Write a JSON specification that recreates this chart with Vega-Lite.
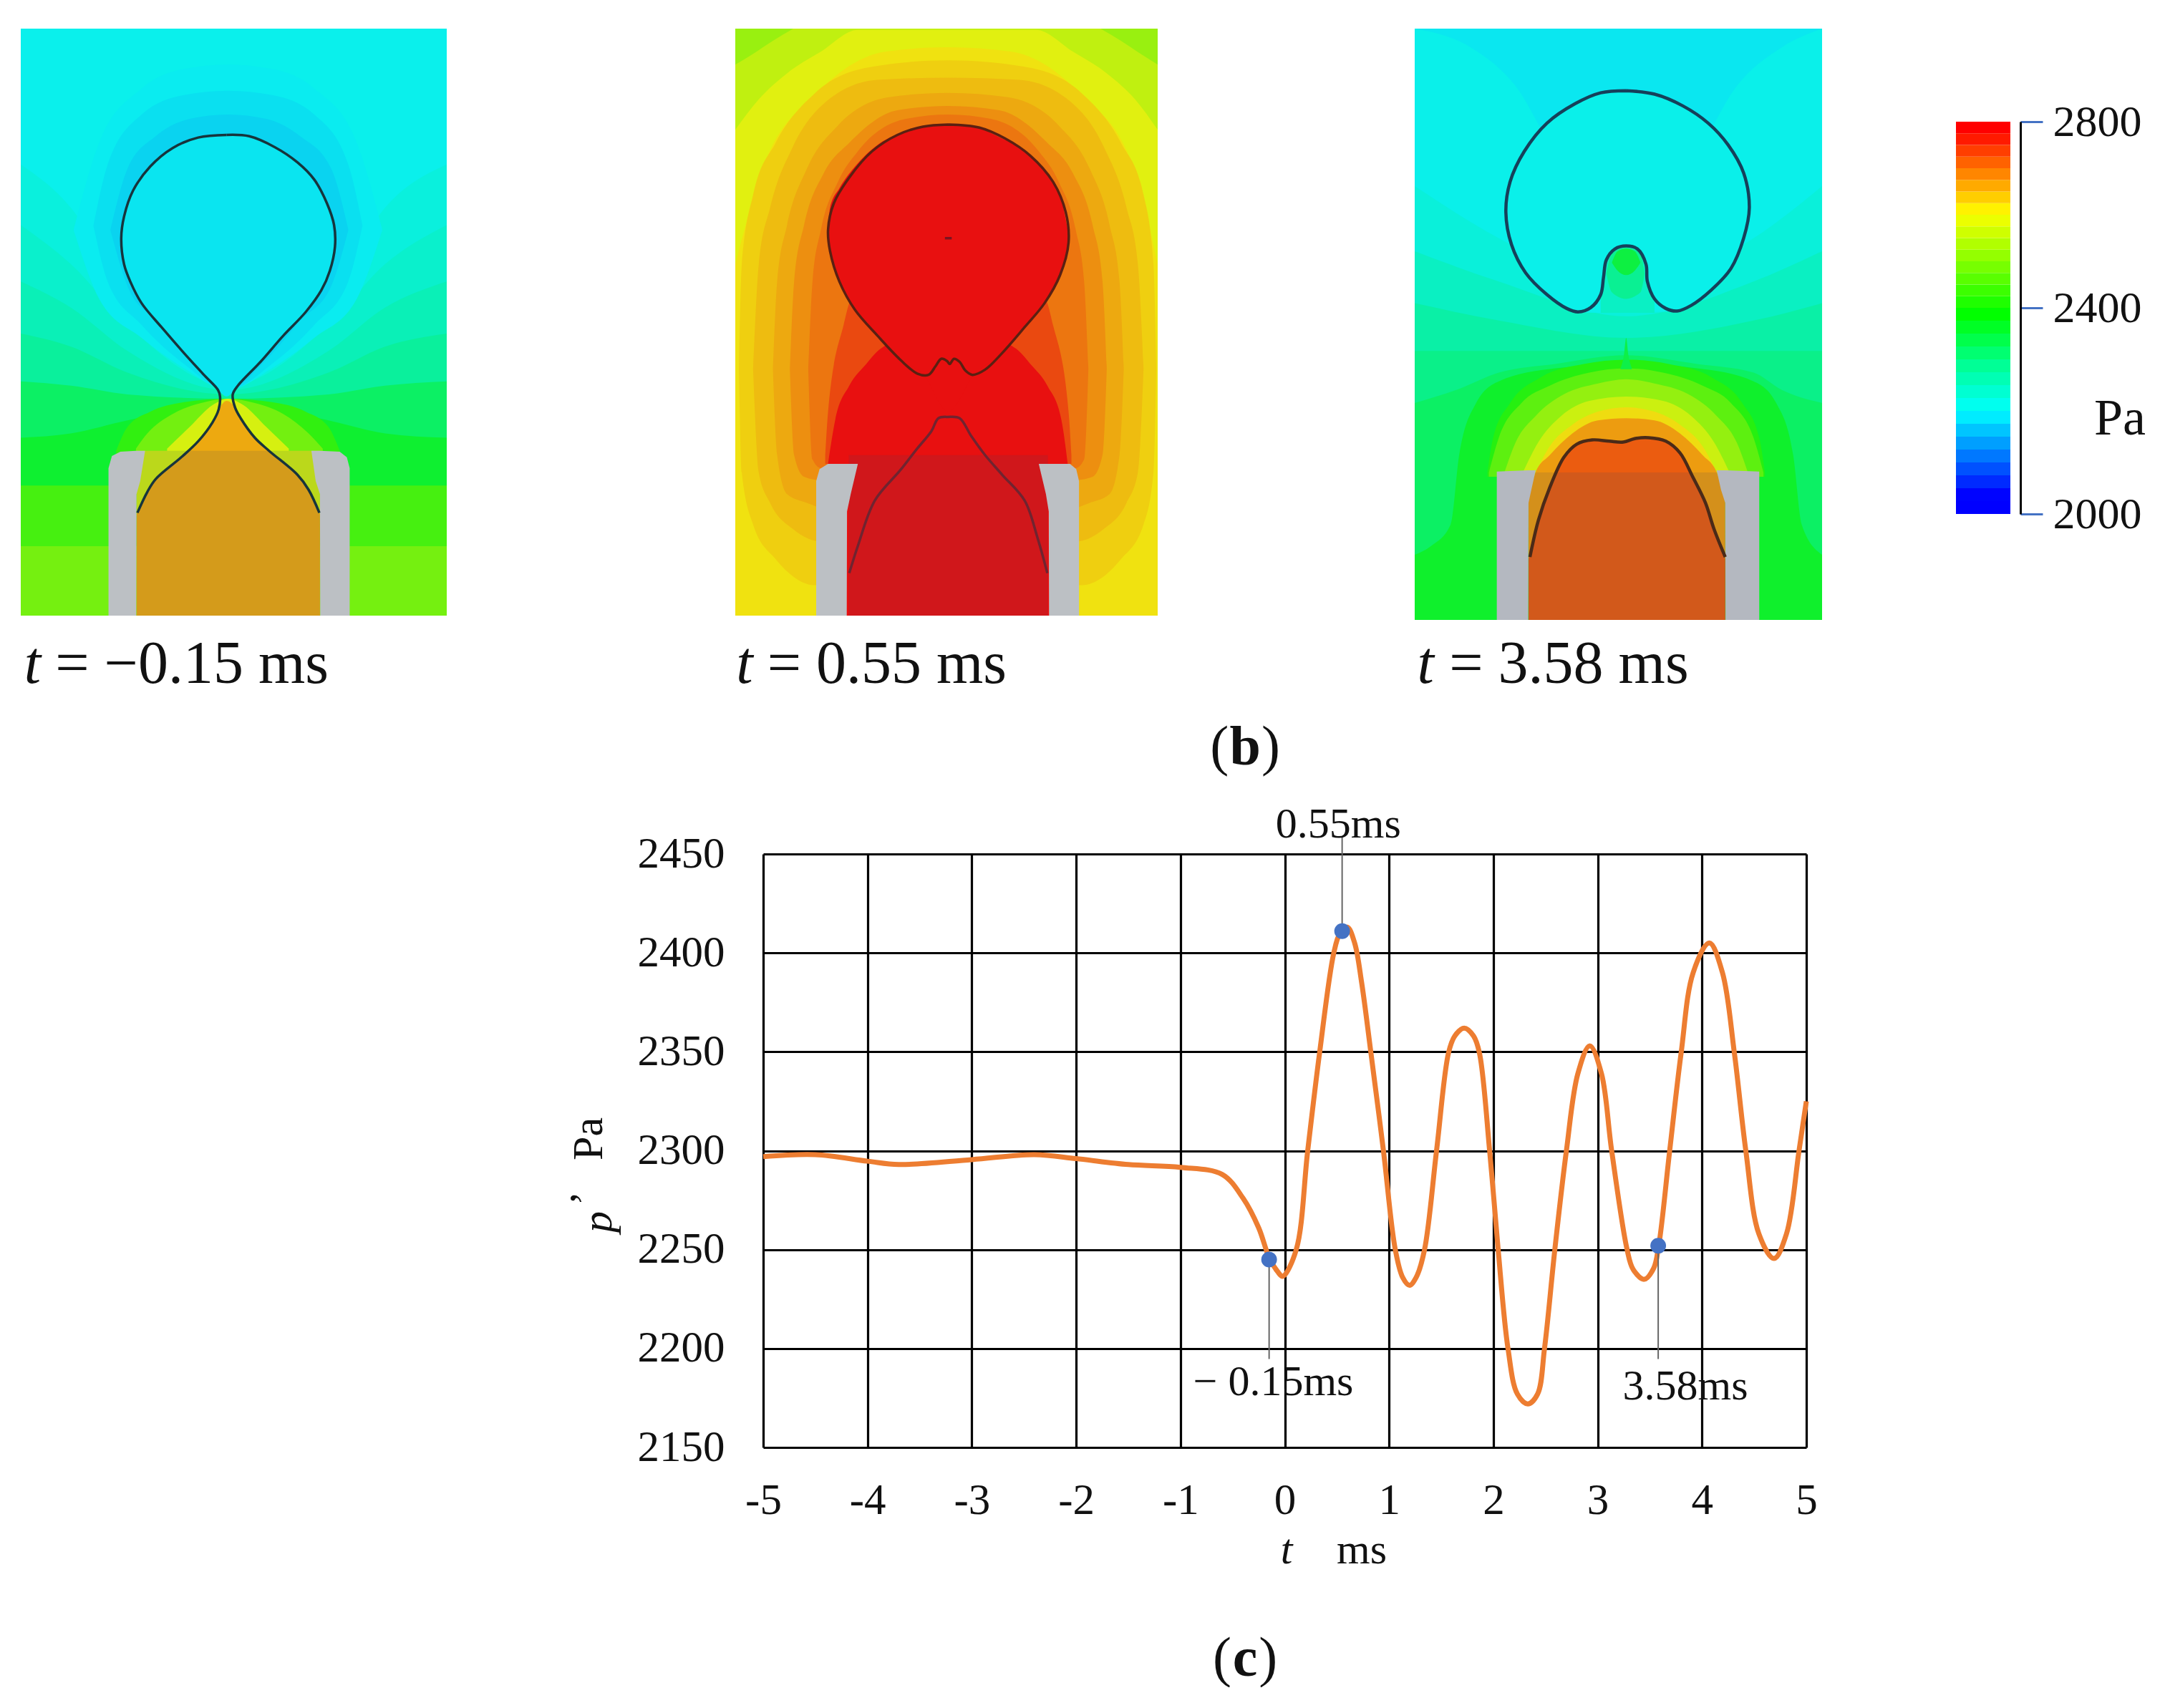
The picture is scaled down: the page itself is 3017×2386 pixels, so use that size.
{
"$schema":"https://vega.github.io/schema/vega-lite/v6.json",
"background":"white",
"padding":{"left":29,"top":40,"right":0,"bottom":0},
"spacing":0,
"resolve":{"scale":{"color":"independent","stroke":"independent"}},
"config":{"view":{"stroke":null},"text":{"font":"Liberation Serif","color":"#111111"},"axis":{"labelFont":"Liberation Serif"}},
"datasets":{
"fill_a":[
{"c":"base","p":2216,"x":23,"y":17,"y2":1370},{"c":"base","p":2216,"x":1528,"y":17,"y2":1370},
{"c":"b2","p":2232,"x":23,"y":330,"y2":1370},{"c":"b2","p":2232,"x":200,"y":430,"y2":1370},{"c":"b2","p":2232,"x":400,"y":640,"y2":1370},{"c":"b2","p":2232,"x":755,"y":800,"y2":1370},{"c":"b2","p":2232,"x":1110,"y":640,"y2":1370},{"c":"b2","p":2232,"x":1310,"y":430,"y2":1370},{"c":"b2","p":2232,"x":1528,"y":330,"y2":1370},
{"c":"b3","p":2250,"x":23,"y":470,"y2":1370},{"c":"b3","p":2250,"x":200,"y":560,"y2":1370},{"c":"b3","p":2250,"x":400,"y":700,"y2":1370},{"c":"b3","p":2250,"x":755,"y":840,"y2":1370},{"c":"b3","p":2250,"x":1110,"y":700,"y2":1370},{"c":"b3","p":2250,"x":1310,"y":560,"y2":1370},{"c":"b3","p":2250,"x":1528,"y":470,"y2":1370},
{"c":"b4","p":2272,"x":23,"y":600,"y2":1370},{"c":"b4","p":2272,"x":200,"y":660,"y2":1370},{"c":"b4","p":2272,"x":400,"y":760,"y2":1370},{"c":"b4","p":2272,"x":755,"y":850,"y2":1370},{"c":"b4","p":2272,"x":1110,"y":760,"y2":1370},{"c":"b4","p":2272,"x":1310,"y":660,"y2":1370},{"c":"b4","p":2272,"x":1528,"y":600,"y2":1370},
{"c":"b5","p":2300,"x":23,"y":720,"y2":1370},{"c":"b5","p":2300,"x":200,"y":750,"y2":1370},{"c":"b5","p":2300,"x":400,"y":810,"y2":1370},{"c":"b5","p":2300,"x":755,"y":860,"y2":1370},{"c":"b5","p":2300,"x":1110,"y":810,"y2":1370},{"c":"b5","p":2300,"x":1310,"y":750,"y2":1370},{"c":"b5","p":2300,"x":1528,"y":720,"y2":1370},
{"c":"b6","p":2350,"x":23,"y":830,"y2":1370},{"c":"b6","p":2350,"x":200,"y":840,"y2":1370},{"c":"b6","p":2350,"x":400,"y":860,"y2":1370},{"c":"b6","p":2350,"x":755,"y":870,"y2":1370},{"c":"b6","p":2350,"x":1110,"y":860,"y2":1370},{"c":"b6","p":2350,"x":1310,"y":840,"y2":1370},{"c":"b6","p":2350,"x":1528,"y":830,"y2":1370},
{"c":"b7","p":2387,"x":23,"y":960,"y2":1370},{"c":"b7","p":2387,"x":200,"y":950,"y2":1370},{"c":"b7","p":2387,"x":400,"y":920,"y2":1370},{"c":"b7","p":2387,"x":755,"y":880,"y2":1370},{"c":"b7","p":2387,"x":1110,"y":920,"y2":1370},{"c":"b7","p":2387,"x":1310,"y":950,"y2":1370},{"c":"b7","p":2387,"x":1528,"y":960,"y2":1370},
{"c":"b8","p":2459,"x":23,"y":1070,"y2":1370},{"c":"b8","p":2459,"x":1528,"y":1070,"y2":1370},
{"c":"b9","p":2502,"x":23,"y":1210,"y2":1370},{"c":"b9","p":2502,"x":1528,"y":1210,"y2":1370},
{"c":"h1","p":2209,"x":210,"y":480,"y2":482},{"c":"h1","p":2209,"x":300,"y":280,"y2":640},{"c":"h1","p":2209,"x":450,"y":155,"y2":730},{"c":"h1","p":2209,"x":600,"y":110,"y2":800},{"c":"h1","p":2209,"x":755,"y":100,"y2":850},{"c":"h1","p":2209,"x":910,"y":110,"y2":800},{"c":"h1","p":2209,"x":1060,"y":155,"y2":730},{"c":"h1","p":2209,"x":1210,"y":280,"y2":640},{"c":"h1","p":2209,"x":1300,"y":480,"y2":482},
{"c":"h2","p":2200,"x":280,"y":470,"y2":472},{"c":"h2","p":2200,"x":330,"y":330,"y2":600},{"c":"h2","p":2200,"x":450,"y":215,"y2":700},{"c":"h2","p":2200,"x":600,"y":170,"y2":790},{"c":"h2","p":2200,"x":755,"y":160,"y2":850},{"c":"h2","p":2200,"x":910,"y":170,"y2":790},{"c":"h2","p":2200,"x":1060,"y":215,"y2":700},{"c":"h2","p":2200,"x":1180,"y":330,"y2":600},{"c":"h2","p":2200,"x":1230,"y":470,"y2":472},
{"c":"h3","p":2190,"x":340,"y":480,"y2":482},{"c":"h3","p":2190,"x":400,"y":340,"y2":610},{"c":"h3","p":2190,"x":500,"y":265,"y2":690},{"c":"h3","p":2190,"x":620,"y":225,"y2":780},{"c":"h3","p":2190,"x":755,"y":215,"y2":850},{"c":"h3","p":2190,"x":890,"y":225,"y2":780},{"c":"h3","p":2190,"x":1010,"y":265,"y2":690},{"c":"h3","p":2190,"x":1120,"y":340,"y2":610},{"c":"h3","p":2190,"x":1180,"y":480,"y2":482},
{"c":"bubble","p":2204,"x":378,"y":500,"y2":502},{"c":"bubble","p":2204,"x":388,"y":450,"y2":560},{"c":"bubble","p":2204,"x":420,"y":390,"y2":610},{"c":"bubble","p":2204,"x":480,"y":335,"y2":672},{"c":"bubble","p":2204,"x":560,"y":292,"y2":735},{"c":"bubble","p":2204,"x":650,"y":268,"y2":800},{"c":"bubble","p":2204,"x":720,"y":262,"y2":850},{"c":"bubble","p":2204,"x":750,"y":262,"y2":865},{"c":"bubble","p":2204,"x":790,"y":262,"y2":840},{"c":"bubble","p":2204,"x":870,"y":272,"y2":785},{"c":"bubble","p":2204,"x":950,"y":298,"y2":725},{"c":"bubble","p":2204,"x":1030,"y":345,"y2":670},{"c":"bubble","p":2204,"x":1085,"y":400,"y2":620},{"c":"bubble","p":2204,"x":1115,"y":445,"y2":575},{"c":"bubble","p":2204,"x":1133,"y":520,"y2":522},
{"c":"a1","p":2440,"x":360,"y":990,"y2":1000},{"c":"a1","p":2440,"x":400,"y":935,"y2":1000},{"c":"a1","p":2440,"x":480,"y":900,"y2":1000},{"c":"a1","p":2440,"x":600,"y":878,"y2":1000},{"c":"a1","p":2440,"x":755,"y":870,"y2":1000},{"c":"a1","p":2440,"x":910,"y":878,"y2":1000},{"c":"a1","p":2440,"x":1030,"y":900,"y2":1000},{"c":"a1","p":2440,"x":1110,"y":935,"y2":1000},{"c":"a1","p":2440,"x":1150,"y":990,"y2":1000},
{"c":"a2","p":2500,"x":430,"y":985,"y2":1000},{"c":"a2","p":2500,"x":470,"y":950,"y2":1000},{"c":"a2","p":2500,"x":560,"y":905,"y2":1000},{"c":"a2","p":2500,"x":660,"y":880,"y2":1000},{"c":"a2","p":2500,"x":755,"y":870,"y2":1000},{"c":"a2","p":2500,"x":850,"y":880,"y2":1000},{"c":"a2","p":2500,"x":950,"y":905,"y2":1000},{"c":"a2","p":2500,"x":1040,"y":950,"y2":1000},{"c":"a2","p":2500,"x":1090,"y":985,"y2":1000},
{"c":"a3","p":2590,"x":540,"y":985,"y2":1000},{"c":"a3","p":2590,"x":620,"y":935,"y2":1000},{"c":"a3","p":2590,"x":700,"y":885,"y2":1000},{"c":"a3","p":2590,"x":755,"y":870,"y2":1000},{"c":"a3","p":2590,"x":810,"y":885,"y2":1000},{"c":"a3","p":2590,"x":890,"y":935,"y2":1000},{"c":"a3","p":2590,"x":970,"y":985,"y2":1000},
{"c":"a4","p":2585,"x":432,"y":990,"y2":1140},{"c":"a4","p":2585,"x":1080,"y":990,"y2":1140},
{"c":"jet","p":2670,"x":432,"y":1136,"y2":1370},{"c":"jet","p":2670,"x":470,"y":1085,"y2":1370},{"c":"jet","p":2670,"x":500,"y":1055,"y2":1370},{"c":"jet","p":2670,"x":590,"y":1005,"y2":1370},{"c":"jet","p":2670,"x":650,"y":968,"y2":1370},{"c":"jet","p":2670,"x":700,"y":925,"y2":1370},{"c":"jet","p":2670,"x":722,"y":895,"y2":1370},{"c":"jet","p":2670,"x":750,"y":875,"y2":1370},{"c":"jet","p":2670,"x":780,"y":890,"y2":1370},{"c":"jet","p":2670,"x":800,"y":915,"y2":1370},{"c":"jet","p":2670,"x":850,"y":960,"y2":1370},{"c":"jet","p":2670,"x":900,"y":990,"y2":1370},{"c":"jet","p":2670,"x":1000,"y":1045,"y2":1370},{"c":"jet","p":2670,"x":1040,"y":1080,"y2":1370},{"c":"jet","p":2670,"x":1080,"y":1136,"y2":1370}
],
"wall_a":[
{"side":"l","x":333,"y":1030,"y2":1370},{"side":"l","x":345,"y":1002,"y2":1370},{"side":"l","x":375,"y":992,"y2":1370},{"side":"l","x":431,"y":990,"y2":1370},{"side":"l","x":432,"y":990,"y2":1090},{"side":"l","x":445,"y":990,"y2":1060},{"side":"l","x":462,"y":990,"y2":991},
{"side":"r","x":1050,"y":990,"y2":991},{"side":"r","x":1065,"y":990,"y2":1060},{"side":"r","x":1080,"y":990,"y2":1090},{"side":"r","x":1081,"y":990,"y2":1370},{"side":"r","x":1150,"y":992,"y2":1370},{"side":"r","x":1175,"y":1005,"y2":1370},{"side":"r","x":1185,"y":1030,"y2":1370}
],
"glass_a":[{"x":432,"x2":1080,"y":990,"y2":1370}],
"line_a":[
{"piece":"top left","x":750,"y":262},{"piece":"top left","x":650,"y":268},{"piece":"top left","x":560,"y":292},{"piece":"top left","x":480,"y":335},{"piece":"top left","x":420,"y":390},{"piece":"top left","x":388,"y":450},{"piece":"top left","x":378,"y":500},{"piece":"top left","x":388,"y":560},{"piece":"top left","x":410,"y":600},{"piece":"top left","x":450,"y":650},{"piece":"top left","x":520,"y":705},{"piece":"top left","x":600,"y":765},{"piece":"top left","x":670,"y":815},{"piece":"top left","x":720,"y":850},{"piece":"top left","x":727,"y":865},{"piece":"top left","x":722,"y":895},{"piece":"top left","x":700,"y":925},{"piece":"top left","x":650,"y":968},{"piece":"top left","x":590,"y":1005},{"piece":"top left","x":500,"y":1055},{"piece":"top left","x":470,"y":1085},{"piece":"top left","x":435,"y":1133},
{"piece":"top right","x":750,"y":262},{"piece":"top right","x":830,"y":265},{"piece":"top right","x":920,"y":290},{"piece":"top right","x":1000,"y":325},{"piece":"top right","x":1060,"y":365},{"piece":"top right","x":1105,"y":420},{"piece":"top right","x":1130,"y":470},{"piece":"top right","x":1133,"y":520},{"piece":"top right","x":1115,"y":575},{"piece":"top right","x":1085,"y":620},{"piece":"top right","x":1030,"y":670},{"piece":"top right","x":950,"y":725},{"piece":"top right","x":870,"y":785},{"piece":"top right","x":790,"y":840},{"piece":"top right","x":772,"y":860},{"piece":"top right","x":780,"y":890},{"piece":"top right","x":800,"y":915},{"piece":"top right","x":850,"y":960},{"piece":"top right","x":900,"y":990},{"piece":"top right","x":1000,"y":1045},{"piece":"top right","x":1040,"y":1080},{"piece":"top right","x":1078,"y":1133}
],
"fill_b":[
{"c":"base","p":2625,"x":17,"y":17,"y2":1370},{"c":"base","p":2625,"x":1510,"y":17,"y2":1370},
{"c":"t0","p":2600,"x":17,"y":17,"y2":560},{"c":"t0","p":2600,"x":120,"y":17,"y2":330},{"c":"t0","p":2600,"x":300,"y":17,"y2":170},{"c":"t0","p":2600,"x":550,"y":17,"y2":70},{"c":"t0","p":2600,"x":770,"y":17,"y2":60},{"c":"t0","p":2600,"x":990,"y":17,"y2":70},{"c":"t0","p":2600,"x":1240,"y":17,"y2":170},{"c":"t0","p":2600,"x":1420,"y":17,"y2":330},{"c":"t0","p":2600,"x":1510,"y":17,"y2":560},
{"c":"t1","p":2570,"x":17,"y":17,"y2":250},{"c":"t1","p":2570,"x":100,"y":17,"y2":180},{"c":"t1","p":2570,"x":200,"y":17,"y2":120},{"c":"t1","p":2570,"x":320,"y":17,"y2":70},{"c":"t1","p":2570,"x":450,"y":17,"y2":20},{"c":"t1","p":2570,"x":1080,"y":17,"y2":20},{"c":"t1","p":2570,"x":1210,"y":17,"y2":70},{"c":"t1","p":2570,"x":1330,"y":17,"y2":120},{"c":"t1","p":2570,"x":1430,"y":17,"y2":180},{"c":"t1","p":2570,"x":1510,"y":17,"y2":250},
{"c":"t2l","p":2535,"x":17,"y":17,"y2":100},{"c":"t2l","p":2535,"x":80,"y":17,"y2":75},{"c":"t2l","p":2535,"x":150,"y":17,"y2":45},{"c":"t2l","p":2535,"x":220,"y":17,"y2":18},
{"c":"t2r","p":2535,"x":1310,"y":17,"y2":18},{"c":"t2r","p":2535,"x":1380,"y":17,"y2":45},{"c":"t2r","p":2535,"x":1450,"y":17,"y2":75},{"c":"t2r","p":2535,"x":1510,"y":17,"y2":100},
{"c":"c1","p":2640,"x":30,"y":800,"y2":802},{"c":"c1","p":2640,"x":40,"y":560,"y2":1040},{"c":"c1","p":2640,"x":80,"y":400,"y2":1160},{"c":"c1","p":2640,"x":160,"y":280,"y2":1240},{"c":"c1","p":2640,"x":300,"y":165,"y2":1300},{"c":"c1","p":2640,"x":500,"y":105,"y2":1300},{"c":"c1","p":2640,"x":770,"y":90,"y2":1300},{"c":"c1","p":2640,"x":1040,"y":105,"y2":1300},{"c":"c1","p":2640,"x":1240,"y":165,"y2":1300},{"c":"c1","p":2640,"x":1380,"y":280,"y2":1240},{"c":"c1","p":2640,"x":1460,"y":400,"y2":1160},{"c":"c1","p":2640,"x":1495,"y":560,"y2":1040},{"c":"c1","p":2640,"x":1505,"y":800,"y2":802},
{"c":"c2","p":2655,"x":80,"y":800,"y2":802},{"c":"c2","p":2655,"x":100,"y":560,"y2":1040},{"c":"c2","p":2655,"x":140,"y":430,"y2":1110},{"c":"c2","p":2655,"x":220,"y":290,"y2":1170},{"c":"c2","p":2655,"x":330,"y":190,"y2":1200},{"c":"c2","p":2655,"x":520,"y":135,"y2":1200},{"c":"c2","p":2655,"x":770,"y":130,"y2":1200},{"c":"c2","p":2655,"x":1020,"y":135,"y2":1200},{"c":"c2","p":2655,"x":1210,"y":190,"y2":1200},{"c":"c2","p":2655,"x":1320,"y":290,"y2":1170},{"c":"c2","p":2655,"x":1400,"y":430,"y2":1110},{"c":"c2","p":2655,"x":1440,"y":560,"y2":1040},{"c":"c2","p":2655,"x":1460,"y":800,"y2":802},
{"c":"c3","p":2670,"x":150,"y":800,"y2":802},{"c":"c3","p":2670,"x":165,"y":600,"y2":1000},{"c":"c3","p":2670,"x":200,"y":470,"y2":1090},{"c":"c3","p":2670,"x":270,"y":340,"y2":1110},{"c":"c3","p":2670,"x":380,"y":240,"y2":1130},{"c":"c3","p":2670,"x":560,"y":175,"y2":1130},{"c":"c3","p":2670,"x":770,"y":165,"y2":1130},{"c":"c3","p":2670,"x":980,"y":175,"y2":1130},{"c":"c3","p":2670,"x":1160,"y":240,"y2":1130},{"c":"c3","p":2670,"x":1270,"y":340,"y2":1110},{"c":"c3","p":2670,"x":1340,"y":470,"y2":1090},{"c":"c3","p":2670,"x":1375,"y":600,"y2":1000},{"c":"c3","p":2670,"x":1390,"y":800,"y2":802},
{"c":"c4","p":2690,"x":210,"y":800,"y2":802},{"c":"c4","p":2690,"x":225,"y":600,"y2":1000},{"c":"c4","p":2690,"x":260,"y":470,"y2":1050},{"c":"c4","p":2690,"x":330,"y":350,"y2":1060},{"c":"c4","p":2690,"x":420,"y":280,"y2":1070},{"c":"c4","p":2690,"x":590,"y":205,"y2":1070},{"c":"c4","p":2690,"x":770,"y":195,"y2":1070},{"c":"c4","p":2690,"x":950,"y":205,"y2":1070},{"c":"c4","p":2690,"x":1120,"y":280,"y2":1070},{"c":"c4","p":2690,"x":1210,"y":350,"y2":1060},{"c":"c4","p":2690,"x":1280,"y":470,"y2":1050},{"c":"c4","p":2690,"x":1315,"y":600,"y2":1000},{"c":"c4","p":2690,"x":1330,"y":800,"y2":802},
{"c":"c5","p":2710,"x":275,"y":800,"y2":802},{"c":"c5","p":2710,"x":290,"y":600,"y2":1010},{"c":"c5","p":2710,"x":320,"y":480,"y2":1030},{"c":"c5","p":2710,"x":380,"y":370,"y2":1030},{"c":"c5","p":2710,"x":450,"y":300,"y2":1030},{"c":"c5","p":2710,"x":620,"y":225,"y2":1030},{"c":"c5","p":2710,"x":770,"y":215,"y2":1030},{"c":"c5","p":2710,"x":920,"y":225,"y2":1030},{"c":"c5","p":2710,"x":1090,"y":300,"y2":1030},{"c":"c5","p":2710,"x":1160,"y":370,"y2":1030},{"c":"c5","p":2710,"x":1220,"y":480,"y2":1030},{"c":"c5","p":2710,"x":1250,"y":600,"y2":1010},{"c":"c5","p":2710,"x":1265,"y":800,"y2":802},
{"c":"c6","p":2745,"x":335,"y":1000,"y2":1020},{"c":"c6","p":2745,"x":345,"y":900,"y2":1020},{"c":"c6","p":2745,"x":400,"y":700,"y2":1020},{"c":"c6","p":2745,"x":430,"y":640,"y2":1020},{"c":"c6","p":2745,"x":770,"y":640,"y2":1020},{"c":"c6","p":2745,"x":1110,"y":640,"y2":1020},{"c":"c6","p":2745,"x":1140,"y":700,"y2":1020},{"c":"c6","p":2745,"x":1195,"y":900,"y2":1020},{"c":"c6","p":2745,"x":1205,"y":1000,"y2":1020},
{"c":"lobe","p":2800,"x":345,"y":1020,"y2":1370},{"c":"lobe","p":2800,"x":370,"y":920,"y2":1370},{"c":"lobe","p":2800,"x":420,"y":840,"y2":1370},{"c":"lobe","p":2800,"x":480,"y":790,"y2":1370},{"c":"lobe","p":2800,"x":530,"y":755,"y2":1370},{"c":"lobe","p":2800,"x":770,"y":700,"y2":1370},{"c":"lobe","p":2800,"x":1010,"y":755,"y2":1370},{"c":"lobe","p":2800,"x":1060,"y":790,"y2":1370},{"c":"lobe","p":2800,"x":1120,"y":840,"y2":1370},{"c":"lobe","p":2800,"x":1170,"y":920,"y2":1370},{"c":"lobe","p":2800,"x":1192,"y":1020,"y2":1370},
{"c":"bubble","p":2800,"x":345,"y":480,"y2":482},{"c":"bubble","p":2800,"x":352,"y":430,"y2":530},{"c":"bubble","p":2800,"x":385,"y":385,"y2":600},{"c":"bubble","p":2800,"x":440,"y":335,"y2":665},{"c":"bubble","p":2800,"x":520,"y":285,"y2":725},{"c":"bubble","p":2800,"x":600,"y":258,"y2":780},{"c":"bubble","p":2800,"x":680,"y":243,"y2":812},{"c":"bubble","p":2800,"x":770,"y":238,"y2":900},{"c":"bubble","p":2800,"x":860,"y":243,"y2":815},{"c":"bubble","p":2800,"x":960,"y":270,"y2":765},{"c":"bubble","p":2800,"x":1040,"y":298,"y2":705},{"c":"bubble","p":2800,"x":1110,"y":345,"y2":650},{"c":"bubble","p":2800,"x":1165,"y":400,"y2":585},{"c":"bubble","p":2800,"x":1195,"y":490,"y2":510}
],
"wall_b":[
{"side":"l","x":303,"y":1060,"y2":1370},{"side":"l","x":315,"y":1032,"y2":1370},{"side":"l","x":345,"y":1020,"y2":1370},{"side":"l","x":411,"y":1020,"y2":1370},{"side":"l","x":412,"y":1020,"y2":1130},{"side":"l","x":425,"y":1020,"y2":1090},{"side":"l","x":450,"y":1020,"y2":1021},
{"side":"r","x":1090,"y":1020,"y2":1021},{"side":"r","x":1115,"y":1020,"y2":1090},{"side":"r","x":1125,"y":1020,"y2":1130},{"side":"r","x":1126,"y":1020,"y2":1370},{"side":"r","x":1200,"y":1020,"y2":1370},{"side":"r","x":1222,"y":1032,"y2":1370},{"side":"r","x":1232,"y":1060,"y2":1370}
],
"glass_b":[{"x":418,"x2":1122,"y":1000,"y2":1370}],
"line_b":[
{"piece":"bubble","x":770,"y":238},{"piece":"bubble","x":680,"y":243},{"piece":"bubble","x":590,"y":262},{"piece":"bubble","x":500,"y":300},{"piece":"bubble","x":420,"y":360},{"piece":"bubble","x":365,"y":420},{"piece":"bubble","x":345,"y":480},{"piece":"bubble","x":352,"y":530},{"piece":"bubble","x":385,"y":600},{"piece":"bubble","x":440,"y":665},{"piece":"bubble","x":520,"y":725},{"piece":"bubble","x":600,"y":780},{"piece":"bubble","x":660,"y":812},{"piece":"bubble","x":700,"y":815},{"piece":"bubble","x":725,"y":795},{"piece":"bubble","x":745,"y":778},{"piece":"bubble","x":765,"y":783},{"piece":"bubble","x":775,"y":790},{"piece":"bubble","x":790,"y":778},{"piece":"bubble","x":810,"y":785},{"piece":"bubble","x":830,"y":805},{"piece":"bubble","x":855,"y":815},{"piece":"bubble","x":900,"y":803},{"piece":"bubble","x":960,"y":765},{"piece":"bubble","x":1040,"y":705},{"piece":"bubble","x":1110,"y":650},{"piece":"bubble","x":1165,"y":585},{"piece":"bubble","x":1195,"y":510},{"piece":"bubble","x":1185,"y":440},{"piece":"bubble","x":1140,"y":370},{"piece":"bubble","x":1060,"y":310},{"piece":"bubble","x":970,"y":270},{"piece":"bubble","x":880,"y":245},{"piece":"bubble","x":770,"y":238},
{"piece":"jet","x":420,"y":1272},{"piece":"jet","x":450,"y":1210},{"piece":"jet","x":510,"y":1105},{"piece":"jet","x":600,"y":1035},{"piece":"jet","x":660,"y":985},{"piece":"jet","x":710,"y":945},{"piece":"jet","x":735,"y":915},{"piece":"jet","x":770,"y":912},{"piece":"jet","x":810,"y":915},{"piece":"jet","x":850,"y":955},{"piece":"jet","x":900,"y":1000},{"piece":"jet","x":960,"y":1045},{"piece":"jet","x":1040,"y":1105},{"piece":"jet","x":1085,"y":1190},{"piece":"jet","x":1120,"y":1272},
{"piece":"dot","x":758,"y":500},{"piece":"dot","x":782,"y":500}
],
"fill_c":[
{"c":"base","p":2205,"x":3,"y":17,"y2":1380},{"c":"base","p":2205,"x":1442,"y":17,"y2":1380},
{"c":"t1","p":2218,"x":3,"y":17,"y2":1380},{"c":"t1","p":2218,"x":200,"y":60,"y2":1380},{"c":"t1","p":2218,"x":360,"y":150,"y2":1380},{"c":"t1","p":2218,"x":500,"y":300,"y2":1380},{"c":"t1","p":2218,"x":750,"y":400,"y2":1380},{"c":"t1","p":2218,"x":1000,"y":300,"y2":1380},{"c":"t1","p":2218,"x":1140,"y":150,"y2":1380},{"c":"t1","p":2218,"x":1300,"y":60,"y2":1380},{"c":"t1","p":2218,"x":1442,"y":17,"y2":1380},
{"c":"t2","p":2235,"x":3,"y":380,"y2":1380},{"c":"t2","p":2235,"x":300,"y":500,"y2":1380},{"c":"t2","p":2235,"x":750,"y":620,"y2":1380},{"c":"t2","p":2235,"x":1200,"y":500,"y2":1380},{"c":"t2","p":2235,"x":1442,"y":380,"y2":1380},
{"c":"t3","p":2260,"x":3,"y":530,"y2":1380},{"c":"t3","p":2260,"x":300,"y":600,"y2":1380},{"c":"t3","p":2260,"x":750,"y":680,"y2":1380},{"c":"t3","p":2260,"x":1200,"y":600,"y2":1380},{"c":"t3","p":2260,"x":1442,"y":530,"y2":1380},
{"c":"t4","p":2290,"x":3,"y":650,"y2":1380},{"c":"t4","p":2290,"x":300,"y":690,"y2":1380},{"c":"t4","p":2290,"x":750,"y":730,"y2":1380},{"c":"t4","p":2290,"x":1200,"y":690,"y2":1380},{"c":"t4","p":2290,"x":1442,"y":650,"y2":1380},
{"c":"t5","p":2320,"x":3,"y":760,"y2":1380},{"c":"t5","p":2320,"x":1442,"y":760,"y2":1380},
{"c":"t6","p":2350,"x":3,"y":880,"y2":1380},{"c":"t6","p":2350,"x":150,"y":850,"y2":1380},{"c":"t6","p":2350,"x":300,"y":810,"y2":1380},{"c":"t6","p":2350,"x":500,"y":790,"y2":1380},{"c":"t6","p":2350,"x":750,"y":770,"y2":1380},{"c":"t6","p":2350,"x":1000,"y":790,"y2":1380},{"c":"t6","p":2350,"x":1200,"y":810,"y2":1380},{"c":"t6","p":2350,"x":1300,"y":850,"y2":1380},{"c":"t6","p":2350,"x":1442,"y":880,"y2":1380},
{"c":"t7","p":2390,"x":3,"y":1230,"y2":1380},{"c":"t7","p":2390,"x":60,"y":1210,"y2":1380},{"c":"t7","p":2390,"x":130,"y":1160,"y2":1380},{"c":"t7","p":2390,"x":160,"y":1000,"y2":1380},{"c":"t7","p":2390,"x":220,"y":880,"y2":1380},{"c":"t7","p":2390,"x":300,"y":830,"y2":1380},{"c":"t7","p":2390,"x":500,"y":800,"y2":1380},{"c":"t7","p":2390,"x":750,"y":790,"y2":1380},{"c":"t7","p":2390,"x":1000,"y":800,"y2":1380},{"c":"t7","p":2390,"x":1200,"y":830,"y2":1380},{"c":"t7","p":2390,"x":1280,"y":880,"y2":1380},{"c":"t7","p":2390,"x":1340,"y":1000,"y2":1380},{"c":"t7","p":2390,"x":1370,"y":1160,"y2":1380},{"c":"t7","p":2390,"x":1442,"y":1230,"y2":1380},
{"c":"g1","p":2430,"x":260,"y":1040,"y2":1050},{"c":"g1","p":2430,"x":280,"y":960,"y2":1050},{"c":"g1","p":2430,"x":340,"y":880,"y2":1050},{"c":"g1","p":2430,"x":450,"y":820,"y2":1050},{"c":"g1","p":2430,"x":600,"y":790,"y2":1050},{"c":"g1","p":2430,"x":750,"y":780,"y2":1050},{"c":"g1","p":2430,"x":900,"y":790,"y2":1050},{"c":"g1","p":2430,"x":1050,"y":820,"y2":1050},{"c":"g1","p":2430,"x":1160,"y":880,"y2":1050},{"c":"g1","p":2430,"x":1220,"y":960,"y2":1050},{"c":"g1","p":2430,"x":1240,"y":1040,"y2":1050},
{"c":"g2","p":2480,"x":265,"y":1040,"y2":1050},{"c":"g2","p":2480,"x":300,"y":960,"y2":1050},{"c":"g2","p":2480,"x":380,"y":880,"y2":1050},{"c":"g2","p":2480,"x":480,"y":840,"y2":1050},{"c":"g2","p":2480,"x":620,"y":810,"y2":1050},{"c":"g2","p":2480,"x":750,"y":800,"y2":1050},{"c":"g2","p":2480,"x":880,"y":810,"y2":1050},{"c":"g2","p":2480,"x":1020,"y":840,"y2":1050},{"c":"g2","p":2480,"x":1120,"y":880,"y2":1050},{"c":"g2","p":2480,"x":1200,"y":960,"y2":1050},{"c":"g2","p":2480,"x":1235,"y":1040,"y2":1050},
{"c":"g3","p":2530,"x":320,"y":1040,"y2":1050},{"c":"g3","p":2530,"x":360,"y":970,"y2":1050},{"c":"g3","p":2530,"x":430,"y":910,"y2":1050},{"c":"g3","p":2530,"x":530,"y":860,"y2":1050},{"c":"g3","p":2530,"x":650,"y":835,"y2":1050},{"c":"g3","p":2530,"x":750,"y":825,"y2":1050},{"c":"g3","p":2530,"x":850,"y":835,"y2":1050},{"c":"g3","p":2530,"x":970,"y":860,"y2":1050},{"c":"g3","p":2530,"x":1070,"y":910,"y2":1050},{"c":"g3","p":2530,"x":1140,"y":970,"y2":1050},{"c":"g3","p":2530,"x":1180,"y":1040,"y2":1050},
{"c":"g4","p":2580,"x":385,"y":1040,"y2":1050},{"c":"g4","p":2580,"x":440,"y":970,"y2":1050},{"c":"g4","p":2580,"x":520,"y":910,"y2":1050},{"c":"g4","p":2580,"x":620,"y":875,"y2":1050},{"c":"g4","p":2580,"x":750,"y":865,"y2":1050},{"c":"g4","p":2580,"x":880,"y":875,"y2":1050},{"c":"g4","p":2580,"x":980,"y":910,"y2":1050},{"c":"g4","p":2580,"x":1060,"y":970,"y2":1050},{"c":"g4","p":2580,"x":1115,"y":1040,"y2":1050},
{"c":"g5","p":2630,"x":430,"y":1040,"y2":1050},{"c":"g5","p":2630,"x":480,"y":980,"y2":1050},{"c":"g5","p":2630,"x":560,"y":930,"y2":1050},{"c":"g5","p":2630,"x":650,"y":900,"y2":1050},{"c":"g5","p":2630,"x":750,"y":890,"y2":1050},{"c":"g5","p":2630,"x":850,"y":900,"y2":1050},{"c":"g5","p":2630,"x":940,"y":930,"y2":1050},{"c":"g5","p":2630,"x":1020,"y":980,"y2":1050},{"c":"g5","p":2630,"x":1070,"y":1040,"y2":1050},
{"c":"g6","p":2680,"x":405,"y":1100,"y2":1240},{"c":"g6","p":2680,"x":430,"y":1040,"y2":1240},{"c":"g6","p":2680,"x":480,"y":1000,"y2":1240},{"c":"g6","p":2680,"x":560,"y":950,"y2":1240},{"c":"g6","p":2680,"x":650,"y":920,"y2":1240},{"c":"g6","p":2680,"x":750,"y":915,"y2":1240},{"c":"g6","p":2680,"x":850,"y":920,"y2":1240},{"c":"g6","p":2680,"x":940,"y":950,"y2":1240},{"c":"g6","p":2680,"x":1020,"y":1000,"y2":1240},{"c":"g6","p":2680,"x":1070,"y":1040,"y2":1240},{"c":"g6","p":2680,"x":1100,"y":1100,"y2":1240},
{"c":"jet","p":2730,"x":405,"y":1240,"y2":1380},{"c":"jet","p":2730,"x":440,"y":1150,"y2":1380},{"c":"jet","p":2730,"x":480,"y":1075,"y2":1380},{"c":"jet","p":2730,"x":530,"y":1005,"y2":1380},{"c":"jet","p":2730,"x":575,"y":975,"y2":1380},{"c":"jet","p":2730,"x":630,"y":965,"y2":1380},{"c":"jet","p":2730,"x":690,"y":968,"y2":1380},{"c":"jet","p":2730,"x":740,"y":970,"y2":1380},{"c":"jet","p":2730,"x":780,"y":962,"y2":1380},{"c":"jet","p":2730,"x":830,"y":960,"y2":1380},{"c":"jet","p":2730,"x":890,"y":968,"y2":1380},{"c":"jet","p":2730,"x":940,"y":995,"y2":1380},{"c":"jet","p":2730,"x":985,"y":1050,"y2":1380},{"c":"jet","p":2730,"x":1030,"y":1110,"y2":1380},{"c":"jet","p":2730,"x":1060,"y":1170,"y2":1380},{"c":"jet","p":2730,"x":1100,"y":1240,"y2":1380},
{"c":"streak","p":2370,"x":730,"y":800,"y2":802},{"c":"streak","p":2370,"x":742,"y":770,"y2":802},{"c":"streak","p":2370,"x":750,"y":730,"y2":802},{"c":"streak","p":2370,"x":758,"y":770,"y2":802},{"c":"streak","p":2370,"x":770,"y":800,"y2":802},
{"c":"bubble","p":2218,"x":325,"y":440,"y2":445},{"c":"bubble","p":2218,"x":345,"y":360,"y2":515},{"c":"bubble","p":2218,"x":395,"y":295,"y2":580},{"c":"bubble","p":2218,"x":470,"y":235,"y2":630},{"c":"bubble","p":2218,"x":540,"y":205,"y2":662},{"c":"bubble","p":2218,"x":580,"y":190,"y2":670},{"c":"bubble","p":2218,"x":660,"y":165,"y2":672},{"c":"bubble","p":2218,"x":750,"y":160,"y2":672},{"c":"bubble","p":2218,"x":850,"y":168,"y2":670},{"c":"bubble","p":2218,"x":930,"y":190,"y2":668},{"c":"bubble","p":2218,"x":980,"y":205,"y2":655},{"c":"bubble","p":2218,"x":1050,"y":240,"y2":620},{"c":"bubble","p":2218,"x":1120,"y":295,"y2":570},{"c":"bubble","p":2218,"x":1165,"y":350,"y2":500},{"c":"bubble","p":2218,"x":1185,"y":430,"y2":435},
{"c":"nub","p":2258,"x":660,"y":640,"y2":672},{"c":"nub","p":2258,"x":670,"y":590,"y2":672},{"c":"nub","p":2258,"x":680,"y":550,"y2":672},{"c":"nub","p":2258,"x":710,"y":525,"y2":672},{"c":"nub","p":2258,"x":750,"y":518,"y2":672},{"c":"nub","p":2258,"x":790,"y":525,"y2":672},{"c":"nub","p":2258,"x":820,"y":560,"y2":672},{"c":"nub","p":2258,"x":825,"y":600,"y2":672},{"c":"nub","p":2258,"x":850,"y":645,"y2":672},
{"c":"nub mid","p":2310,"x":680,"y":580,"y2":582},{"c":"nub mid","p":2310,"x":700,"y":535,"y2":625},{"c":"nub mid","p":2310,"x":750,"y":522,"y2":640},{"c":"nub mid","p":2310,"x":800,"y":535,"y2":625},{"c":"nub mid","p":2310,"x":815,"y":580,"y2":582},
{"c":"nub top","p":2375,"x":700,"y":555,"y2":557},{"c":"nub top","p":2375,"x":720,"y":530,"y2":575},{"c":"nub top","p":2375,"x":750,"y":524,"y2":585},{"c":"nub top","p":2375,"x":780,"y":530,"y2":575},{"c":"nub top","p":2375,"x":800,"y":555,"y2":557}
],
"wall_c":[
{"side":"l","x":293,"y":1038,"y2":1380},{"side":"l","x":404,"y":1035,"y2":1380},{"side":"l","x":405,"y":1035,"y2":1110},{"side":"l","x":415,"y":1035,"y2":1080},{"side":"l","x":430,"y":1035,"y2":1036},
{"side":"r","x":1070,"y":1035,"y2":1036},{"side":"r","x":1085,"y":1035,"y2":1080},{"side":"r","x":1100,"y":1035,"y2":1110},{"side":"r","x":1101,"y":1035,"y2":1380},{"side":"r","x":1220,"y":1038,"y2":1380}
],
"glass_c":[{"x":405,"x2":1100,"y":1040,"y2":1380}],
"line_c":[
{"piece":"bubble","x":750,"y":160},{"piece":"bubble","x":660,"y":165},{"piece":"bubble","x":570,"y":190},{"piece":"bubble","x":470,"y":235},{"piece":"bubble","x":390,"y":300},{"piece":"bubble","x":340,"y":370},{"piece":"bubble","x":325,"y":440},{"piece":"bubble","x":345,"y":515},{"piece":"bubble","x":395,"y":580},{"piece":"bubble","x":470,"y":630},{"piece":"bubble","x":540,"y":662},{"piece":"bubble","x":580,"y":670},{"piece":"bubble","x":625,"y":660},{"piece":"bubble","x":660,"y":630},{"piece":"bubble","x":670,"y":590},{"piece":"bubble","x":680,"y":550},{"piece":"bubble","x":710,"y":525},{"piece":"bubble","x":750,"y":518},{"piece":"bubble","x":790,"y":525},{"piece":"bubble","x":820,"y":560},{"piece":"bubble","x":825,"y":600},{"piece":"bubble","x":850,"y":640},{"piece":"bubble","x":890,"y":662},{"piece":"bubble","x":930,"y":668},{"piece":"bubble","x":980,"y":655},{"piece":"bubble","x":1050,"y":620},{"piece":"bubble","x":1120,"y":570},{"piece":"bubble","x":1165,"y":500},{"piece":"bubble","x":1185,"y":430},{"piece":"bubble","x":1165,"y":350},{"piece":"bubble","x":1110,"y":285},{"piece":"bubble","x":1040,"y":235},{"piece":"bubble","x":950,"y":195},{"piece":"bubble","x":850,"y":168},{"piece":"bubble","x":750,"y":160},
{"piece":"jet","x":410,"y":1235},{"piece":"jet","x":440,"y":1150},{"piece":"jet","x":480,"y":1075},{"piece":"jet","x":530,"y":1005},{"piece":"jet","x":575,"y":975},{"piece":"jet","x":630,"y":965},{"piece":"jet","x":690,"y":968},{"piece":"jet","x":740,"y":970},{"piece":"jet","x":780,"y":962},{"piece":"jet","x":830,"y":960},{"piece":"jet","x":890,"y":968},{"piece":"jet","x":940,"y":995},{"piece":"jet","x":985,"y":1050},{"piece":"jet","x":1030,"y":1110},{"piece":"jet","x":1060,"y":1170},{"piece":"jet","x":1100,"y":1235}
],
"colorbar":[
{"lo":2000,"hi":2025,"p":2012},{"lo":2025,"hi":2050,"p":2037},{"lo":2050,"hi":2075,"p":2062},{"lo":2075,"hi":2100,"p":2087},{"lo":2100,"hi":2125,"p":2112},{"lo":2125,"hi":2150,"p":2137},{"lo":2150,"hi":2175,"p":2162},{"lo":2175,"hi":2200,"p":2187},{"lo":2200,"hi":2225,"p":2212},{"lo":2225,"hi":2250,"p":2237},{"lo":2250,"hi":2275,"p":2262},{"lo":2275,"hi":2300,"p":2287},{"lo":2300,"hi":2325,"p":2312},{"lo":2325,"hi":2350,"p":2337},{"lo":2350,"hi":2375,"p":2362},{"lo":2375,"hi":2400,"p":2387},{"lo":2400,"hi":2425,"p":2412},{"lo":2425,"hi":2450,"p":2437},{"lo":2450,"hi":2475,"p":2462},{"lo":2475,"hi":2500,"p":2487},{"lo":2500,"hi":2525,"p":2512},{"lo":2525,"hi":2550,"p":2537},{"lo":2550,"hi":2575,"p":2562},{"lo":2575,"hi":2600,"p":2587},{"lo":2600,"hi":2625,"p":2612},{"lo":2625,"hi":2650,"p":2637},{"lo":2650,"hi":2675,"p":2662},{"lo":2675,"hi":2700,"p":2687},{"lo":2700,"hi":2725,"p":2712},{"lo":2725,"hi":2750,"p":2737},{"lo":2750,"hi":2775,"p":2762},{"lo":2775,"hi":2800,"p":2787}
],
"pressure":[
{"t":-5,"p":2297},{"t":-4.5,"p":2298},{"t":-4,"p":2294.7},{"t":-3.7,"p":2293},{"t":-3,"p":2295.5},{"t":-2.4,"p":2298},{"t":-2,"p":2296},{"t":-1.5,"p":2293},{"t":-1,"p":2291.6},{"t":-0.6,"p":2288},{"t":-0.4,"p":2276},{"t":-0.25,"p":2261},{"t":-0.15,"p":2246},{"t":-0.07,"p":2239},{"t":-0.02,"p":2236.5},{"t":0.11,"p":2250},{"t":0.22,"p":2300},{"t":0.335,"p":2350},{"t":0.47,"p":2400},{"t":0.53,"p":2410},{"t":0.6,"p":2413},{"t":0.67,"p":2405},{"t":0.737,"p":2385},{"t":0.826,"p":2349.5},{"t":0.946,"p":2300},{"t":1.058,"p":2250.5},{"t":1.13,"p":2236},{"t":1.196,"p":2232},{"t":1.26,"p":2236},{"t":1.34,"p":2250},{"t":1.455,"p":2300},{"t":1.57,"p":2349.5},{"t":1.63,"p":2358},{"t":1.72,"p":2362},{"t":1.81,"p":2358},{"t":1.866,"p":2349.5},{"t":1.964,"p":2300},{"t":2.045,"p":2250.5},{"t":2.14,"p":2200},{"t":2.23,"p":2177},{"t":2.33,"p":2172},{"t":2.424,"p":2177},{"t":2.49,"p":2200},{"t":2.59,"p":2250.5},{"t":2.7,"p":2300},{"t":2.81,"p":2339},{"t":2.924,"p":2353},{"t":3.036,"p":2339},{"t":3.134,"p":2300},{"t":3.28,"p":2250.5},{"t":3.34,"p":2240},{"t":3.446,"p":2235},{"t":3.536,"p":2240.5},{"t":3.585,"p":2252},{"t":3.69,"p":2300},{"t":3.8,"p":2349.5},{"t":3.915,"p":2390},{"t":4.07,"p":2405},{"t":4.196,"p":2390},{"t":4.31,"p":2349.5},{"t":4.42,"p":2300},{"t":4.545,"p":2258},{"t":4.69,"p":2245.5},{"t":4.81,"p":2258},{"t":4.93,"p":2300},{"t":5,"p":2325}
],
"marks":[
{"t":-0.15,"p":2245,"end":2194.7},{"t":0.55,"p":2411,"end":2458.6},{"t":3.58,"p":2252,"end":2194.7}
]
},
"vconcat":[
{"bounds":"flush","spacing":0,"resolve":{"scale":{"color":"independent","stroke":"independent"}},"hconcat":[
{"width":998,"height":1081,
"encoding":{"x":{"field":"x","type":"quantitative","axis":null,"scale":{"domain":[23,1528],"range":[0,595],"nice":false,"zero":false}},"y":{"field":"y","type":"quantitative","axis":null,"scale":{"domain":[17,1370],"range":[0,820],"nice":false,"zero":false}}},
"layer":[
{"data":{"name":"fill_a"},"mark":{"type":"area","orient":"vertical","interpolate":"monotone","opacity":1},"encoding":{"y2":{"field":"y2"},"detail":{"field":"c"},"color":{"field":"p","type":"quantitative","legend":null,"scale":{"domain":[2040,2212,2330,2410,2614,2790],"range":["#0a0af0","#0af0f0","#0af080","#10f010","#f0f010","#e81010"],"interpolate":"rgb","clamp":true}}}},
{"data":{"name":"glass_a"},"mark":{"type":"rect","color":"#404a60","opacity":0.14},"encoding":{"x2":{"field":"x2"},"y2":{"field":"y2"}}},
{"data":{"name":"wall_a"},"mark":{"type":"area","orient":"vertical","color":"#bcc0c4","opacity":1},"encoding":{"y2":{"field":"y2"},"detail":{"field":"side"}}},
{"data":{"name":"line_a"},"mark":{"type":"line","interpolate":"catmull-rom","strokeWidth":3.5,"color":"#17343c"},"encoding":{"detail":{"field":"piece"},"order":{"value":null}}},
{"data":{"values":[{"x":35,"y":1525,"text":"t"}]},"mark":{"type":"text","fontSize":84,"fontStyle":"italic","align":"left","baseline":"alphabetic"},"encoding":{"text":{"field":"text"}}},
{"data":{"values":[{"x":145,"y":1525,"text":"= −0.15 ms"}]},"mark":{"type":"text","fontSize":84,"align":"left","baseline":"alphabetic"},"encoding":{"text":{"field":"text"}}}
]},
{"width":949,"height":1081,
"encoding":{"x":{"field":"x","type":"quantitative","axis":null,"scale":{"domain":[17,1510],"range":[0,590],"nice":false,"zero":false}},"y":{"field":"y","type":"quantitative","axis":null,"scale":{"domain":[17,1370],"range":[0,820],"nice":false,"zero":false}}},
"layer":[
{"data":{"name":"fill_b"},"mark":{"type":"area","orient":"vertical","interpolate":"monotone","opacity":1},"encoding":{"y2":{"field":"y2"},"detail":{"field":"c"},"color":{"field":"p","type":"quantitative","legend":null,"scale":{"domain":[2040,2212,2330,2410,2614,2790],"range":["#0a0af0","#0af0f0","#0af080","#10f010","#f0f010","#e81010"],"interpolate":"rgb","clamp":true}}}},
{"data":{"name":"glass_b"},"mark":{"type":"rect","color":"#404a60","opacity":0.14},"encoding":{"x2":{"field":"x2"},"y2":{"field":"y2"}}},
{"data":{"name":"wall_b"},"mark":{"type":"area","orient":"vertical","color":"#bcc0c4","opacity":1},"encoding":{"y2":{"field":"y2"},"detail":{"field":"side"}}},
{"data":{"name":"line_b"},"mark":{"type":"line","interpolate":"catmull-rom","strokeWidth":3.5},"encoding":{"stroke":{"field":"piece","type":"nominal","legend":null,"scale":{"domain":["bubble","jet","dot"],"range":["#5a2012","#702430","#7a1420"]}},"order":{"value":null}}},
{"data":{"values":[{"x":20,"y":1525,"text":"t"}]},"mark":{"type":"text","fontSize":84,"fontStyle":"italic","align":"left","baseline":"alphabetic"},"encoding":{"text":{"field":"text"}}},
{"data":{"values":[{"x":130,"y":1525,"text":"= 0.55 ms"}]},"mark":{"type":"text","fontSize":84,"align":"left","baseline":"alphabetic"},"encoding":{"text":{"field":"text"}}},
{"data":{"values":[{"x":1728,"y":1675,"text":"("},{"x":1910,"y":1675,"text":")"}]},"mark":{"type":"text","fontSize":78,"baseline":"middle"},"encoding":{"text":{"field":"text"}}},
{"data":{"values":[{"x":1819,"y":1675,"text":"b"}]},"mark":{"type":"text","fontSize":78,"fontWeight":"bold","baseline":"middle"},"encoding":{"text":{"field":"text"}}}
]},
{"width":756,"height":1081,
"encoding":{"x":{"field":"x","type":"quantitative","axis":null,"scale":{"domain":[3,1442],"range":[0,569],"nice":false,"zero":false}},"y":{"field":"y","type":"quantitative","axis":null,"scale":{"domain":[17,1380],"range":[0,826],"nice":false,"zero":false}}},
"layer":[
{"data":{"name":"fill_c"},"mark":{"type":"area","orient":"vertical","interpolate":"monotone","opacity":1},"encoding":{"y2":{"field":"y2"},"detail":{"field":"c"},"color":{"field":"p","type":"quantitative","legend":null,"scale":{"domain":[2040,2212,2330,2410,2614,2790],"range":["#0a0af0","#0af0f0","#0af080","#10f010","#f0f010","#e81010"],"interpolate":"rgb","clamp":true}}}},
{"data":{"name":"glass_c"},"mark":{"type":"rect","color":"#404a60","opacity":0.14},"encoding":{"x2":{"field":"x2"},"y2":{"field":"y2"}}},
{"data":{"name":"wall_c"},"mark":{"type":"area","orient":"vertical","color":"#b4b8c0","opacity":1},"encoding":{"y2":{"field":"y2"},"detail":{"field":"side"}}},
{"data":{"name":"line_c"},"mark":{"type":"line","interpolate":"catmull-rom","strokeWidth":4.5},"encoding":{"stroke":{"field":"piece","type":"nominal","legend":null,"scale":{"domain":["bubble","jet"],"range":["#16405a","#4a2a18"]}},"order":{"value":null}}},
{"data":{"values":[{"x":12,"y":1525,"text":"t"}]},"mark":{"type":"text","fontSize":84,"fontStyle":"italic","align":"left","baseline":"alphabetic"},"encoding":{"text":{"field":"text"}}},
{"data":{"values":[{"x":125,"y":1525,"text":"= 3.58 ms"}]},"mark":{"type":"text","fontSize":84,"align":"left","baseline":"alphabetic"},"encoding":{"text":{"field":"text"}}}
]},
{"width":90,"height":1081,
"layer":[
{"data":{"name":"colorbar"},"mark":{"type":"rect","strokeWidth":0},"encoding":{
"x":{"datum":0,"type":"quantitative","axis":null,"scale":{"domain":[0,90],"range":[0,90],"nice":false}},
"x2":{"datum":76},
"y":{"field":"lo","type":"quantitative","scale":{"domain":[2000,2400,2800],"range":[678,390,130],"nice":false,"zero":false},"axis":{"orient":"right","values":[2000,2400,2800],"format":"d","title":null,"grid":false,"domainColor":"#000000","domainWidth":3,"tickColor":"#4472c4","tickWidth":3,"tickSize":31,"labelFontSize":62,"labelColor":"#111111","labelPadding":14,"labelBaseline":"middle"}},
"y2":{"field":"hi"},
"color":{"field":"p","type":"quantitative","legend":null,"scale":{"domain":[2035,2199,2292,2386,2603,2780],"range":["#0000ff","#00ffff","#00ff90","#00ff00","#ffff00","#ff0000"],"interpolate":"rgb","clamp":true}}}},
{"data":{"values":[{"label":"Pa","x":193,"p":2185}]},"mark":{"type":"text","fontSize":72,"align":"left","baseline":"middle"},"encoding":{"x":{"field":"x","type":"quantitative"},"y":{"field":"p","type":"quantitative"},"text":{"field":"label"}}}
]}
]},
{"bounds":"flush","spacing":0,"hconcat":[
{"width":1037,"height":1,"data":{"values":[{"a":0}]},"mark":{"type":"point","opacity":0}},
{"width":1457,"height":829,
"encoding":{
"x":{"field":"t","type":"quantitative","scale":{"domain":[-5,5],"nice":false,"zero":false},"axis":{"values":[-5,-4,-3,-2,-1,0,1,2,3,4,5],"labelExpr":"''+datum.value","title":null,"grid":true,"gridColor":"#000000","gridWidth":3.2,"gridOpacity":1,"domain":false,"ticks":false,"labelFontSize":61,"labelColor":"#111111","labelPadding":44,"labelFlush":false,"labelOverlap":false}},
"y":{"field":"p","type":"quantitative","scale":{"domain":[2150,2450],"nice":false,"zero":false},"axis":{"values":[2150,2200,2250,2300,2350,2400,2450],"title":null,"grid":true,"gridColor":"#000000","gridWidth":3.2,"gridOpacity":1,"domain":false,"ticks":false,"labelFontSize":61,"labelColor":"#111111","labelPadding":54,"format":"d"}}
},
"layer":[
{"data":{"name":"pressure"},"mark":{"type":"line","color":"#ed7d31","strokeWidth":7,"interpolate":"catmull-rom","clip":false}},
{"data":{"name":"marks"},"mark":{"type":"rule","color":"#666666","strokeWidth":2},"encoding":{"y2":{"field":"end"}}},
{"data":{"name":"marks"},"mark":{"type":"circle","color":"#4472c4","size":480,"opacity":1}},
{"data":{"values":[{"t":0.513,"p":2465,"label":"0.55ms"},{"t":-0.11,"p":2183,"label":"− 0.15ms"},{"t":3.84,"p":2180.7,"label":"3.58ms"}]},"mark":{"type":"text","fontSize":60,"baseline":"middle"},"encoding":{"text":{"field":"label"}}},
{"data":{"values":[{"t":0.738,"p":2098,"label":"ms"}]},"mark":{"type":"text","fontSize":60,"baseline":"middle"},"encoding":{"text":{"field":"label"}}},
{"data":{"values":[{"t":0.017,"p":2098,"label":"t"}]},"mark":{"type":"text","fontSize":60,"fontStyle":"italic","baseline":"middle"},"encoding":{"text":{"field":"label"}}},
{"data":{"values":[{"t":-6.58,"p":2264,"label":"p"},{"t":-6.7,"p":2274.5,"label":"’"}]},"mark":{"type":"text","fontSize":60,"fontStyle":"italic","angle":270,"baseline":"middle"},"encoding":{"text":{"field":"label"}}},
{"data":{"values":[{"t":-6.67,"p":2306,"label":"Pa"}]},"mark":{"type":"text","fontSize":60,"angle":270,"baseline":"middle"},"encoding":{"text":{"field":"label"}}},
{"data":{"values":[{"t":-0.6,"p":2043,"label":"("},{"t":-0.16,"p":2043,"label":")"}]},"mark":{"type":"text","fontSize":78,"baseline":"middle"},"encoding":{"text":{"field":"label"}}},
{"data":{"values":[{"t":-0.381,"p":2043,"label":"c"}]},"mark":{"type":"text","fontSize":78,"fontWeight":"bold","baseline":"middle"},"encoding":{"text":{"field":"label"}}}
]}
]}
]
}
